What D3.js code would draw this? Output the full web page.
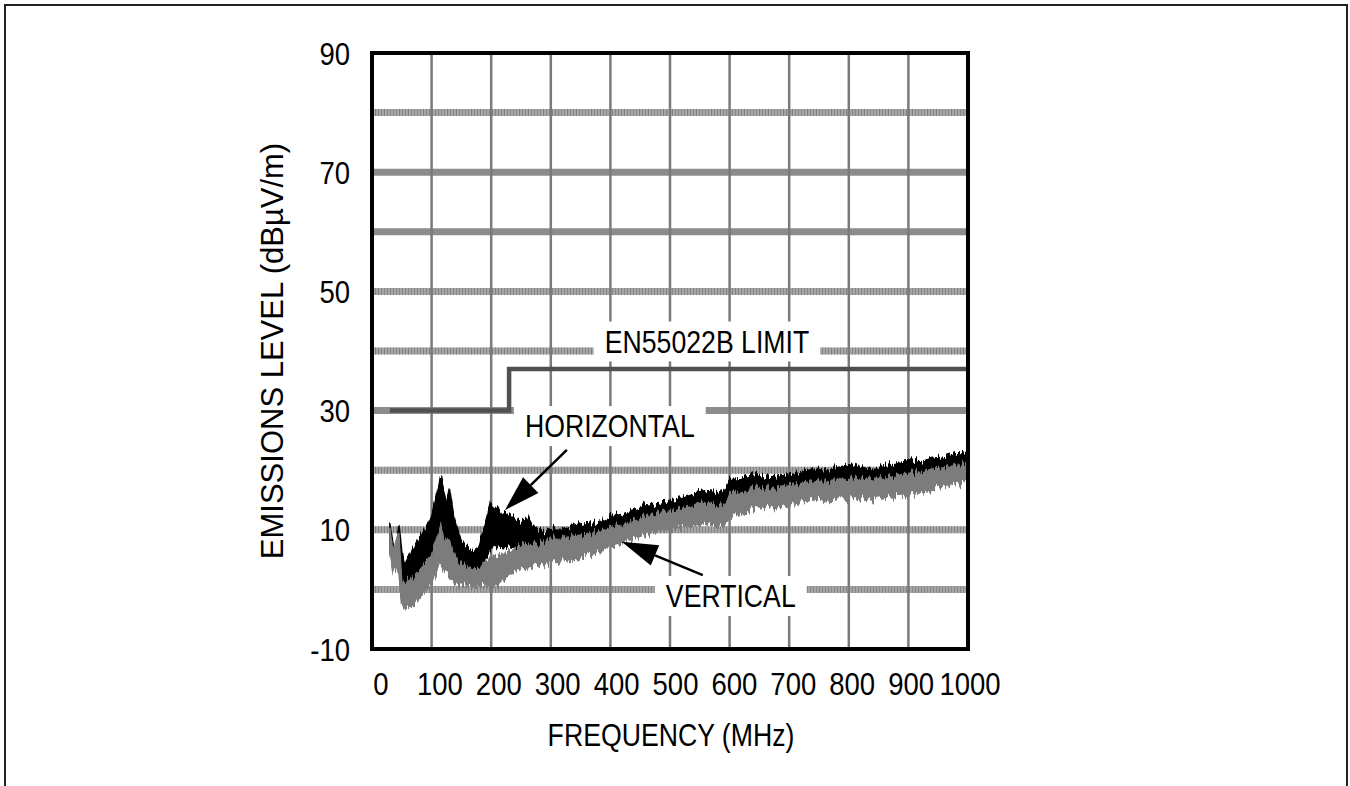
<!DOCTYPE html>
<html>
<head>
<meta charset="utf-8">
<script src="https://cdn.jsdelivr.net/npm/d3@7"></script>
<style>
  body { margin: 0; background: #fff; }
  svg text { font-family: "Liberation Sans", Arial, sans-serif; fill: #000; }
</style>
</head>
<body>
<svg id="chart" width="1350" height="786"></svg>
<script>
// Frequency points of the two scans (MHz)
const freq = [30, 35, 40, 45, 50, 55, 60, 65, 70, 75, 80, 85, 90, 95, 100, 105, 110, 115, 120, 125,
  130, 135, 140, 145, 150, 160, 170, 180, 190, 200, 205, 210, 220, 230, 240, 250, 260, 270, 280, 290,
  300, 320, 340, 360, 380, 400, 420, 440, 460, 480, 500, 520, 540, 560, 580, 590, 600, 620, 640, 660,
  680, 700, 720, 740, 760, 780, 800, 820, 840, 860, 880, 900, 920, 940, 960, 980, 1000];

// HORIZONTAL polarisation (black trace): top and bottom of the noisy band (dBuV/m)
const horizHigh = [11.4, 7.5, 6.0, 11.0, 7.0, 4.5, 5.5, 5.5, 7.0, 7.8, 8.8, 9.4, 10.4, 11.0, 12.2, 14.0, 16.5, 19.0, 16.8, 15.0,
  17.2, 13.5, 11.5, 9.5, 8.0, 7.2, 6.6, 7.4, 11.0, 14.6, 14.2, 13.8, 12.6, 12.8, 11.8, 11.4, 12.4, 10.6, 10.0, 9.6,
  10.2, 10.0, 10.8, 11.2, 11.0, 12.2, 12.6, 13.4, 14.2, 14.0, 15.0, 15.4, 16.2, 16.6, 16.4, 16.8, 18.4, 18.6, 19.4, 18.8,
  19.0, 19.2, 19.6, 20.2, 20.0, 20.4, 20.9, 20.6, 20.0, 20.8, 21.0, 21.8, 21.4, 22.0, 22.2, 22.8, 22.6];
const horizLow = [6.5, 4.0, 3.5, 5.0, 1.5, 0.5, 1.0, 1.5, 2.5, 2.8, 3.5, 4.0, 5.0, 5.5, 6.5, 7.5, 8.5, 9.5, 8.0, 6.5,
  7.0, 5.5, 4.5, 4.0, 3.8, 3.5, 3.2, 3.5, 5.0, 7.0, 7.5, 7.2, 7.0, 7.2, 7.0, 7.4, 7.6, 7.4, 7.2, 7.4,
  7.6, 7.8, 8.2, 8.4, 8.8, 9.6, 10.0, 10.8, 11.4, 11.8, 12.4, 12.8, 13.4, 13.8, 13.4, 13.6, 15.2, 15.6, 16.2, 16.0,
  16.2, 16.6, 16.8, 17.2, 17.4, 17.6, 17.8, 17.8, 17.6, 18.0, 18.2, 18.8, 18.8, 19.4, 19.6, 20.0, 20.2];

// VERTICAL polarisation (grey trace)
const vertHigh = [10.5, 6.0, 8.0, 9.5, 2.0, 1.0, 1.5, 1.8, 2.2, 2.8, 3.2, 3.8, 4.5, 5.2, 6.0, 7.5, 9.0, 10.6, 8.8, 8.0,
  8.4, 6.5, 5.5, 4.6, 4.2, 3.8, 3.6, 3.8, 4.6, 5.4, 5.8, 5.6, 6.0, 6.2, 6.8, 7.2, 7.6, 7.4, 7.6, 8.0,
  8.6, 8.6, 9.0, 9.2, 9.6, 10.4, 10.8, 11.6, 12.2, 12.6, 13.2, 13.6, 14.2, 14.6, 14.2, 14.4, 16.0, 16.4, 17.0, 16.8,
  17.0, 17.4, 17.6, 18.0, 18.2, 18.4, 18.6, 18.6, 18.4, 18.8, 19.0, 19.6, 19.6, 20.2, 20.4, 20.8, 21.0];
const vertLow = [6.0, 3.0, 3.8, 2.0, -2.5, -3.5, -3.2, -3.0, -2.6, -2.0, -1.4, -0.8, 0.0, 0.5, 1.0, 2.2, 3.5, 4.6, 3.6, 2.8,
  2.4, 1.6, 1.0, 0.8, 0.8, 0.6, 0.4, 0.5, 0.6, 0.6, 0.8, 0.6, 1.6, 2.2, 2.8, 3.4, 3.6, 3.8, 4.0, 4.2,
  4.6, 4.8, 5.2, 5.8, 6.4, 7.2, 7.8, 8.6, 9.2, 9.8, 10.0, 10.4, 10.8, 11.0, 10.6, 10.8, 12.2, 12.8, 13.4, 13.6,
  13.8, 14.2, 14.6, 15.0, 15.0, 15.2, 15.3, 15.2, 15.0, 15.4, 15.6, 15.8, 16.2, 16.8, 17.2, 17.8, 18.2];

// EN55022B class B radiated limit
const limitFreq = [30, 230, 230, 1000];
const limitLevel = [30, 30, 37, 37];

// Axis ticks
const xTickValues = [0, 100, 200, 300, 400, 500, 600, 700, 800, 900, 1000];
const yTickValues = [90, 70, 50, 30, 10, -10];
const yGridValues = [0, 10, 20, 30, 40, 50, 60, 70, 80];
const yGridSolid = [70, 60, 30];

// Annotations, anchored in data units
const annotations = [
  {text: "EN55022B LIMIT", f: 562, v: 41.6},
  {text: "HORIZONTAL", f: 399, v: 27.4},
  {text: "VERTICAL", f: 602, v: -1.1}
];
const arrows = [
  {f0: 327, v0: 23.4, f1: 223, v1: 13.3},
  {f0: 555, v0: 2.4, f1: 419, v1: 8.0}
];

const svg = d3.select("#chart");
const narrow = 0.86;   // the original lettering is a condensed face

// text helper: squeeze horizontally around the anchor point
function label(parent, tx, ty, str, size, anchor) {
  return parent.append("text")
      .attr("transform", "translate(" + tx + "," + ty + ") scale(" + narrow + ",1)")
      .attr("dy", "0.36em")
      .attr("text-anchor", anchor)
      .style("font-size", size + "px")
      .text(str);
}

// outer frame of the figure
svg.append("rect")
    .attr("x", 5).attr("y", 5)
    .attr("width", 1342).attr("height", 800)
    .attr("fill", "none").attr("stroke", "#222").attr("stroke-width", 2);

const x = d3.scaleLinear().domain([0, 1000]).range([372, 968]);
const y = d3.scaleLinear().domain([-10, 90]).range([649, 53]);
// tick numbers sit slightly squeezed under the axis in the original
const xLabelPos = d3.scaleLinear().domain([0, 1000]).range([381, 970]);

// noise texture for the scans
const defs = svg.append("defs");
const filt = defs.append("filter").attr("id", "scanNoise")
    .attr("filterUnits", "userSpaceOnUse")
    .attr("x", 360).attr("y", 40).attr("width", 620).attr("height", 620);
filt.append("feTurbulence")
    .attr("type", "fractalNoise").attr("baseFrequency", "0.45 0.015")
    .attr("numOctaves", 2).attr("seed", 7).attr("result", "t");
filt.append("feColorMatrix")
    .attr("in", "t").attr("type", "matrix")
    .attr("values", "0 0 0 0 0.5  0 1 0 0 0  0 0 0 0 0  0 0 0 0 1")
    .attr("result", "m");
filt.append("feDisplacementMap")
    .attr("in", "SourceGraphic").attr("in2", "m")
    .attr("scale", 16).attr("xChannelSelector", "R").attr("yChannelSelector", "G");

defs.append("clipPath").attr("id", "plotClip")
  .append("rect")
    .attr("x", x(0)).attr("y", y(90))
    .attr("width", x(1000) - x(0)).attr("height", y(-10) - y(90));

// Horizontal grid: thick grey bands, most of them hatched
const hGrid = svg.append("g").attr("class", "grid-h");
yGridValues.forEach(function(v) {
  hGrid.append("line")
      .attr("x1", x(0)).attr("x2", x(1000))
      .attr("y1", y(v)).attr("y2", y(v))
      .attr("stroke", yGridSolid.includes(v) ? "#8c8c8c" : "#a6a6a6")
      .attr("stroke-width", 7);
  if (!yGridSolid.includes(v)) {
    hGrid.append("line")
        .attr("x1", x(0)).attr("x2", x(1000))
        .attr("y1", y(v)).attr("y2", y(v))
        .attr("stroke", "#858585")
        .attr("stroke-width", 7)
        .attr("stroke-dasharray", "1 2");
  }
});

// Vertical grid
svg.append("g").attr("class", "grid-v")
  .selectAll("line")
  .data(xTickValues.slice(1, -1))
  .join("line")
    .attr("x1", d => x(d)).attr("x2", d => x(d))
    .attr("y1", y(90)).attr("y2", y(-10))
    .attr("stroke", "#7a7a7a")
    .attr("stroke-width", 2.5);

// Annotation labels on white boxes (they cut the grid)
const notes = svg.append("g").attr("class", "notes");
annotations.forEach(function(a) {
  let g = notes.append("g");
  let t = label(g, x(a.f), y(a.v), a.text, 31, "middle");
  let w = t.node().getBBox().width * narrow;
  g.insert("rect", "text")
      .attr("x", x(a.f) - w / 2 - 11).attr("y", y(a.v) - 20)
      .attr("width", w + 22).attr("height", 40)
      .attr("fill", "#fff");
});

// Limit line
const limitData = limitFreq.map((f, i) => ({f: f, v: limitLevel[i]}));
svg.append("path")
    .datum(limitData)
    .attr("fill", "none")
    .attr("stroke", "#505050")
    .attr("stroke-width", 4.5)
    .attr("d", d3.line().x(d => x(d.f)).y(d => y(d.v)));

// Scans: horizontal (black) underneath, vertical (grey) on top
const horiz = freq.map((f, i) => ({f: f, lo: horizLow[i], hi: horizHigh[i]}));
const vert = freq.map((f, i) => ({f: f, lo: vertLow[i], hi: vertHigh[i]}));
const band = d3.area()
    .x(d => x(d.f))
    .y0(d => y(d.lo))
    .y1(d => y(d.hi));

const scans = svg.append("g").attr("clip-path", "url(#plotClip)")
  .append("g").attr("filter", "url(#scanNoise)");
scans.append("path").datum(horiz)
    .attr("fill", "#000").attr("stroke", "#000").attr("stroke-width", 1.5)
    .attr("d", band);
scans.append("path").datum(vert)
    .attr("fill", "#7b7b7b").attr("stroke", "#7b7b7b").attr("stroke-width", 1.5)
    .attr("d", band);

// Arrows
arrows.forEach(function(a) {
  let x0 = x(a.f0), y0 = y(a.v0), x1 = x(a.f1), y1 = y(a.v1);
  let ang = Math.atan2(y1 - y0, x1 - x0);
  let len = 36, half = 11;
  let bx = x1 - len * Math.cos(ang), by = y1 - len * Math.sin(ang);
  svg.append("line")
      .attr("x1", x0).attr("y1", y0).attr("x2", bx).attr("y2", by)
      .attr("stroke", "#000").attr("stroke-width", 2.5);
  svg.append("path")
      .attr("d", "M" + x1 + "," + y1 +
                 "L" + (bx + half * Math.sin(ang)) + "," + (by - half * Math.cos(ang)) +
                 "L" + (bx - half * Math.sin(ang)) + "," + (by + half * Math.cos(ang)) + "Z")
      .attr("fill", "#000");
});

// Plot frame
svg.append("rect")
    .attr("x", x(0)).attr("y", y(90))
    .attr("width", x(1000) - x(0)).attr("height", y(-10) - y(90))
    .attr("fill", "none").attr("stroke", "#000").attr("stroke-width", 4);

// Tick labels
const yLab = svg.append("g");
yTickValues.forEach(d => label(yLab, 350, y(d), d, 32, "end"));

const xLab = svg.append("g");
xTickValues.forEach(d => label(xLab, xLabelPos(d), 683, d, 32, "middle"));

// Axis titles
label(svg, 671, 735, "FREQUENCY (MHz)", 31, "middle");

svg.append("text")
    .attr("transform", "translate(272," + ((y(90) + y(-10)) / 2) + ")rotate(-90)")
    .attr("dy", "0.36em")
    .attr("text-anchor", "middle")
    .style("font-size", "31px")
    .text("EMISSIONS LEVEL (dBµV/m)");
</script>
</body>
</html>
